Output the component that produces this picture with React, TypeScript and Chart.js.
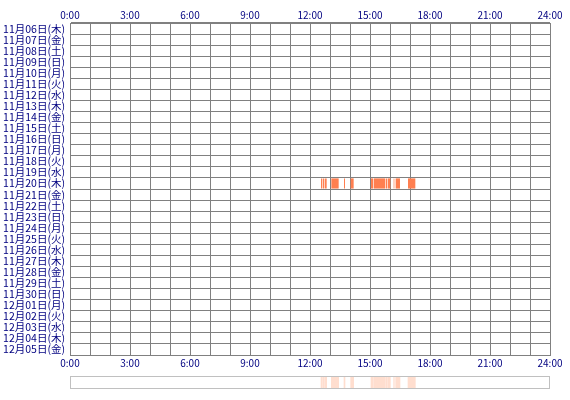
import React, { useEffect, useRef } from 'react';
import { Chart, registerables } from 'chart.js';

Chart.register(...registerables);

const dayLabels: string[] = [
  '11月06日(木)', '11月07日(金)', '11月08日(土)', '11月09日(日)', '11月10日(月)',
  '11月11日(火)', '11月12日(水)', '11月13日(木)', '11月14日(金)', '11月15日(土)',
  '11月16日(日)', '11月17日(月)', '11月18日(火)', '11月19日(水)', '11月20日(木)',
  '11月21日(金)', '11月22日(土)', '11月23日(日)', '11月24日(月)', '11月25日(火)',
  '11月26日(水)', '11月27日(木)', '11月28日(金)', '11月29日(土)', '11月30日(日)',
  '12月01日(月)', '12月02日(火)', '12月03日(水)', '12月04日(木)', '12月05日(金)',
];

const tickLabels: string[] = ['0:00', '3:00', '6:00', '9:00', '12:00', '15:00', '18:00', '21:00', '24:00'];

// sessions (minutes since midnight)
const sessionDay: string[] = [
  '11月20日(木)', '11月20日(木)', '11月20日(木)', '11月20日(木)', '11月20日(木)',
  '11月20日(木)', '11月20日(木)', '11月20日(木)', '11月20日(木)', '11月20日(木)',
  '11月20日(木)', '11月20日(木)', '11月20日(木)',
];
const sessionStart: number[] = [753, 759, 765, 784, 822, 842, 903, 912, 948, 953, 971, 977, 1014];
const sessionEnd: number[] = [757, 763, 770, 806, 825, 851, 910, 946, 951, 961, 973, 990, 1036];

const GRID = '#808080';
const TEXT = '#000080';
const FONT = "'Noto Sans CJK JP', 'DejaVu Sans', sans-serif";

const tickCb = (v: any) => {
  const n = Number(v);
  if (n % 180 === 0) return tickLabels[n / 180];
  return '';
};

export default function App() {
  const mainRef = useRef<HTMLCanvasElement>(null);
  const stripRef = useRef<HTMLCanvasElement>(null);

  useEffect(() => {
    const mainData = sessionStart.map((s, i) => ({ x: [s, sessionEnd[i]], y: sessionDay[i] }));
    const main = new Chart(mainRef.current!, {
      type: 'bar',
      data: {
        labels: dayLabels,
        datasets: [
          {
            data: mainData as any,
            backgroundColor: '#FF7F50',
            borderWidth: 0,
            barPercentage: 0.92,
            categoryPercentage: 1,
          },
        ],
      },
      options: {
        indexAxis: 'y',
        responsive: false,
        animation: false,
        layout: { padding: { left: 0, right: 20, top: 0, bottom: 0 } },
        plugins: { legend: { display: false }, tooltip: { enabled: false } },
        scales: {
          x: {
            type: 'linear',
            position: 'bottom',
            min: 0,
            max: 1440,
            ticks: { stepSize: 60, autoSkip: false, maxRotation: 0, callback: tickCb, color: TEXT, font: { family: FONT, size: 10 }, padding: 2 },
            grid: { color: GRID, lineWidth: 1, drawTicks: false },
            border: { color: GRID },
            afterFit: (s: any) => { s.height = 17; },
          },
          x2: {
            type: 'linear',
            position: 'top',
            min: 0,
            max: 1440,
            ticks: { stepSize: 60, autoSkip: false, maxRotation: 0, callback: tickCb, color: TEXT, font: { family: FONT, size: 10 }, padding: 2 },
            grid: { display: false, drawTicks: false },
            border: { color: GRID },
            afterFit: (s: any) => { s.height = 23; },
          },
          y: {
            type: 'category',
            offset: true,
            ticks: { autoSkip: false, color: TEXT, font: { family: FONT, size: 10.5 }, padding: 5 },
            grid: { color: GRID, lineWidth: 1, drawTicks: false, offset: true },
            border: { color: GRID },
            afterFit: (s: any) => { s.width = 70; },
          },
        },
      },
    });

    const stripData = sessionStart.map((s, i) => ({ x: [s, sessionEnd[i]], y: 'all' }));
    const borderPlugin = {
      id: 'stripBorder',
      afterDraw(chart: any) {
        const { ctx, chartArea } = chart;
        ctx.save();
        ctx.strokeStyle = '#C0C0C0';
        ctx.lineWidth = 1;
        ctx.strokeRect(chartArea.left + 0.5, chartArea.top + 0.5, chartArea.right - chartArea.left - 1, chartArea.bottom - chartArea.top - 1);
        ctx.restore();
      },
    };
    const strip = new Chart(stripRef.current!, {
      type: 'bar',
      data: {
        labels: ['all'],
        datasets: [
          {
            data: stripData as any,
            backgroundColor: '#FFDECF',
            borderWidth: 0,
            barPercentage: 1,
            categoryPercentage: 1,
          },
        ],
      },
      options: {
        indexAxis: 'y',
        responsive: false,
        animation: false,
        layout: { padding: { left: 70, right: 20, top: 6, bottom: 11 } },
        plugins: { legend: { display: false }, tooltip: { enabled: false } },
        scales: {
          x: { type: 'linear', min: 0, max: 1440, display: false },
          y: { type: 'category', display: false },
        },
      },
      plugins: [borderPlugin],
    });

    return () => {
      main.destroy();
      strip.destroy();
    };
  }, []);

  return (
    <div style={{ position: 'fixed', left: 0, top: 0, width: 570, height: 400, background: '#fff' }}>
      <canvas ref={mainRef} width={570} height={372} style={{ position: 'absolute', left: 0, top: 0 }} />
      <canvas ref={stripRef} width={570} height={30} style={{ position: 'absolute', left: 0, top: 370 }} />
    </div>
  );
}
